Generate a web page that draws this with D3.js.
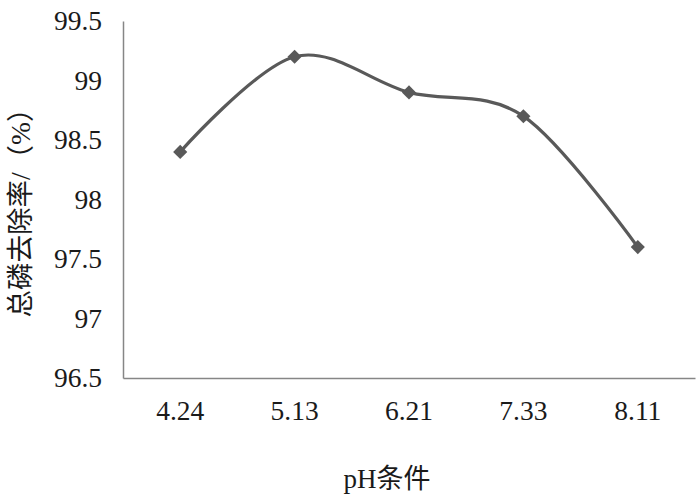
<!DOCTYPE html>
<html><head><meta charset="utf-8">
<script src="https://cdn.jsdelivr.net/npm/d3@7"></script>
<style>body{margin:0;background:#fff}svg{display:block}</style>
</head><body>
<script>
const categories = ["4.24","5.13","6.21","7.33","8.11"];
const values = [98.4, 99.2, 98.9, 98.7, 97.6];
const yTicks = [96.5, 97, 97.5, 98, 98.5, 99, 99.5];
const xTitle = "pH条件";
const yTitle = "总磷去除率/（%）";

const W = 700, H = 501;
const m = {left:123, right:5, top:21, bottom:123};
const svg = d3.select("body").append("svg").attr("width",W).attr("height",H);
const x = d3.scaleBand().domain(categories).range([m.left, W-m.right]);
const y = d3.scaleLinear().domain([96.5, 99.5]).range([H-m.bottom, m.top]);
const font = "'Liberation Serif','Times New Roman',serif";
const axisColor = "#868686";

// y axis
const ya = svg.append("g").attr("transform",`translate(${m.left},0)`)
  .call(d3.axisLeft(y).tickValues(yTicks).tickSize(0).tickPadding(21).tickFormat(d=>String(d)));
ya.select(".domain").attr("stroke",axisColor).attr("stroke-width",1.5);
ya.selectAll("text").attr("font-family",font).attr("font-size",27.5).attr("fill","#1a1a1a");

// x axis
const xa = svg.append("g").attr("transform",`translate(0,${H-m.bottom})`)
  .call(d3.axisBottom(x).tickSize(0).tickPadding(22));
xa.select(".domain").attr("stroke",axisColor).attr("stroke-width",1.5);
xa.selectAll("text").attr("font-family",font).attr("font-size",27.5).attr("fill","#1a1a1a");

// line
const line = d3.line().x((d,i)=>x(categories[i])+x.bandwidth()/2).y(d=>y(d))
  .curve(d3.curveCardinal.tension(0));
svg.append("path").datum(values).attr("d",line).attr("fill","none")
  .attr("stroke","#595959").attr("stroke-width",3.2);

// markers
svg.selectAll(".mk").data(values).enter().append("path")
  .attr("d", d3.symbol().type(d3.symbolSquare).size(100))
  .attr("transform",(d,i)=>`translate(${x(categories[i])+x.bandwidth()/2},${y(d)}) rotate(45)`)
  .attr("fill","#595959");

// titles
svg.append("text").attr("x",387).attr("y",488).attr("text-anchor","middle")
  .attr("font-family","'Liberation Serif','Noto Sans CJK SC',serif").attr("font-size",27).attr("fill","#1a1a1a").text(xTitle);
svg.append("text").attr("transform","translate(30,206) rotate(-90)").attr("text-anchor","middle")
  .attr("font-family","'Liberation Serif','Noto Sans CJK SC',serif").attr("font-size",27.5).attr("fill","#1a1a1a").text(yTitle);
</script>
</body></html>
